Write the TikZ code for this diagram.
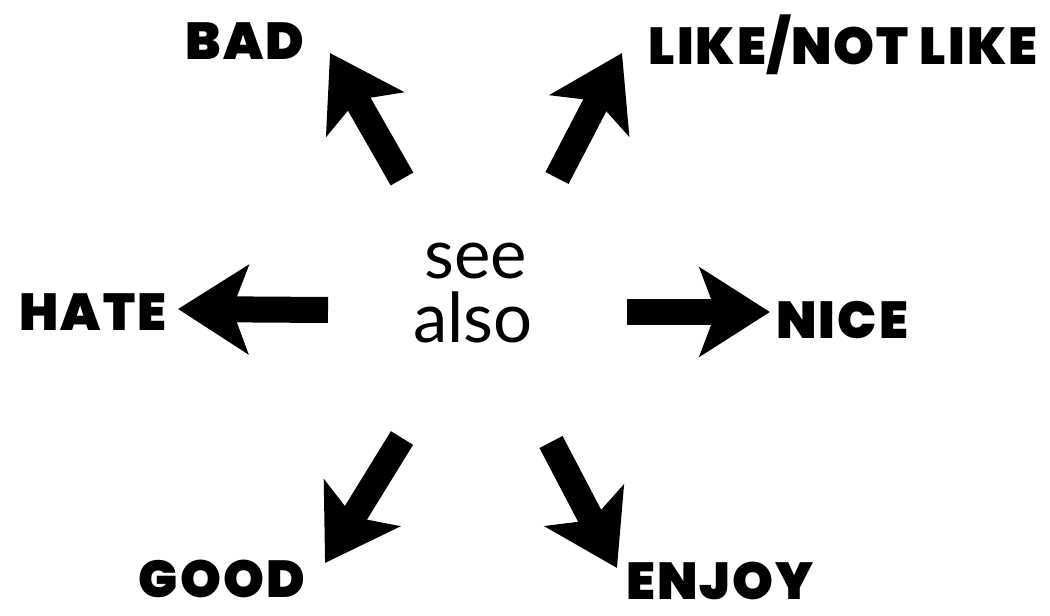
\documentclass[tikz,border=0pt]{standalone}
\usepackage{fontspec}
\usetikzlibrary{arrows.meta}
\newfontfamily\heavyfont{Poppins Black}[LetterSpace=4]
\newfontfamily\seefont{Lato}
\begin{document}
\begin{tikzpicture}[x=0.025cm,y=-0.025cm,
  bigarrow/.style={line width=0.65cm,-{Stealth[length=1.75cm,width=2.2cm,inset=0.4cm]}},
  lab/.style={anchor=base,inner sep=0pt,font=\heavyfont\fontsize{37}{40}\selectfont},
  seetxt/.style={anchor=base,inner sep=0pt,font=\seefont\fontsize{49}{50}\selectfont}]
\useasboundingbox (0,0) rectangle (1050,616);
% centre text
\node[seetxt] (see) at (476,278) {see};
\node[seetxt] (also) at (473,342) {also};
% labels
\node[lab] (bad) at (245,60) {BAD};
\node[lab] (like) at (843,65) {LIKE/NOT LIKE};
\node[lab] (hate) at (93,330) {HATE};
\node[lab,anchor=base west] (nice) at (776,338) {NICE};
\node[lab] (good) at (222,597) {GOOD};
\node[lab,anchor=base west] (enjoy) at (626,599) {ENJOY};
% arrow ends
\coordinate (tBad) at (402,179);  \coordinate (hBad) at (330,53);
\coordinate (tLike) at (557,178); \coordinate (hLike) at (622,53);
\coordinate (tHate) at (328,310); \coordinate (hHate) at (178,309);
\coordinate (tNice) at (627,312); \coordinate (hNice) at (770,312);
\coordinate (tGood) at (402,438); \coordinate (hGood) at (325,563);
\coordinate (tEnjoy) at (551,442); \coordinate (hEnjoy) at (617,568);
\draw[bigarrow] (tBad) -- (hBad);
\draw[bigarrow] (tLike) -- (hLike);
\draw[bigarrow] (tHate) -- (hHate);
\draw[bigarrow] (tNice) -- (hNice);
\draw[bigarrow] (tGood) -- (hGood);
\draw[bigarrow] (tEnjoy) -- (hEnjoy);
\end{tikzpicture}
\end{document}
